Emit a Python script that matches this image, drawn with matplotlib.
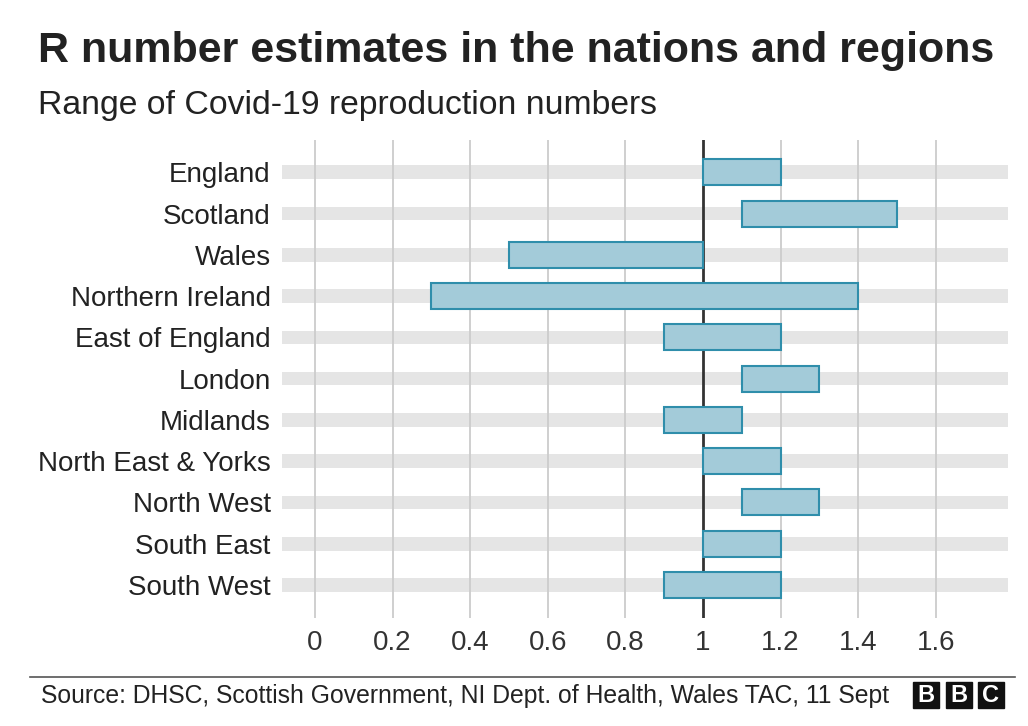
import matplotlib
matplotlib.use("Agg")
import matplotlib.pyplot as plt
from matplotlib.patches import Rectangle

plt.rcParams['font.family'] = ['Liberation Sans', 'DejaVu Sans']

regions = ["England", "Scotland", "Wales", "Northern Ireland", "East of England",
           "London", "Midlands", "North East & Yorks", "North West",
           "South East", "South West"]
r_low = [1.0, 1.1, 0.5, 0.3, 0.9, 1.1, 0.9, 1.0, 1.1, 1.0, 0.9]
r_high = [1.2, 1.5, 1.0, 1.4, 1.2, 1.3, 1.1, 1.2, 1.3, 1.2, 1.2]
xticks = [0, 0.2, 0.4, 0.6, 0.8, 1, 1.2, 1.4, 1.6]
xticklabels = ["0", "0.2", "0.4", "0.6", "0.8", "1", "1.2", "1.4", "1.6"]

txt = "#222222"
fig = plt.figure(figsize=(10.28, 7.26), dpi=100)
ax = fig.add_axes([0.2743, 0.1488, 0.7062, 0.6582])

ypos = list(range(len(regions)))
xmin, xmax = -0.085, 1.786

# grey background bands
ax.barh(ypos, [xmax - xmin] * len(regions), left=xmin, height=0.33,
        color="#e5e5e5", zorder=1)
# vertical grid
for t in xticks:
    if t != 1:
        ax.axvline(t, color="#cccccc", lw=1.3, zorder=2)
ax.axvline(1, color="#333333", lw=2, zorder=3)

widths = [h - l for l, h in zip(r_low, r_high)]
ax.barh(ypos, widths, left=r_low, height=0.63, color="#a3cbd9",
        edgecolor="#2f8eab", linewidth=1.5, zorder=4)

ax.set_xlim(xmin, xmax)
ax.set_ylim(10.8, -0.78)
ax.set_yticks(ypos)
ax.set_yticklabels(regions, fontsize=20, color=txt)
ax.set_xticks(xticks)
ax.set_xticklabels(xticklabels, fontsize=20, color="#333333")
ax.tick_params(axis="both", length=0)
ax.tick_params(axis="x", pad=9)
ax.tick_params(axis="y", pad=8)
for s in ax.spines.values():
    s.set_visible(False)

fig.text(0.037, 0.930, "R number estimates in the nations and regions",
         fontsize=31, fontweight="bold", color=txt, va="center")
fig.text(0.037, 0.854, "Range of Covid-19 reproduction numbers",
         fontsize=24.3, color=txt, va="center")

# footer
fig.add_artist(plt.Line2D([0.029, 0.987], [0.0675, 0.0675],
                          transform=fig.transFigure, color="#555555", lw=1.2))
fig.text(0.04, 0.041, "Source: DHSC, Scottish Government, NI Dept. of Health, Wales TAC, 11 Sept",
         fontsize=17.8, color=txt, va="center")
for i, ch in enumerate("BBC"):
    x0 = (913 + i * 32.5) / 1028
    fig.add_artist(Rectangle((x0, 18 / 726), 26 / 1028, 26 / 726,
                             transform=fig.transFigure, color="#111111"))
    fig.text(x0 + 13 / 1028, 31 / 726, ch, fontsize=17, fontweight="bold",
             color="white", ha="center", va="center")

fig.savefig("out.png", dpi=100)
